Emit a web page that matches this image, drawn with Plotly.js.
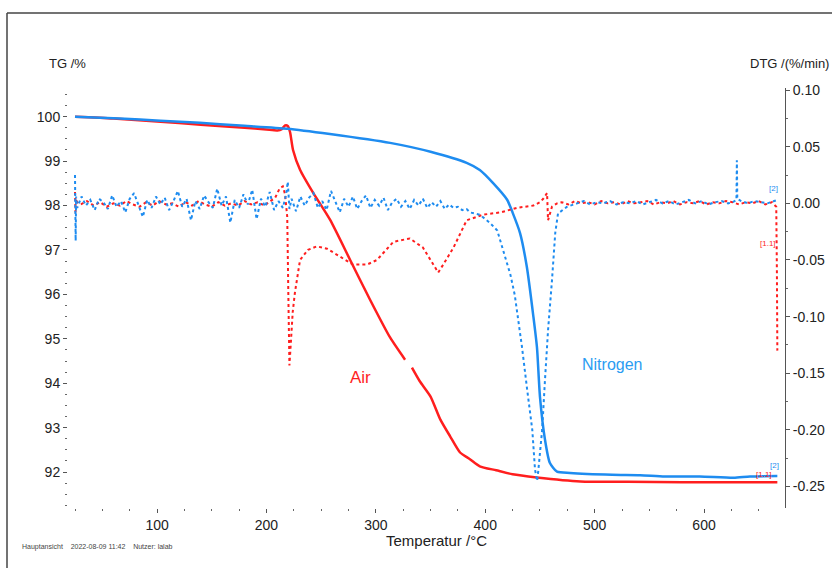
<!DOCTYPE html>
<html>
<head>
<meta charset="utf-8">
<script src="https://cdn.plot.ly/plotly-3.0.1.min.js"></script>
<style>html,body{margin:0;padding:0;background:#fff;}#chart{width:832px;height:568px;}</style>
</head>
<body>
<div id="chart"></div>
<script>
// ---- TG (mass %) : Air (red) ----
const tgAirT = [25, 60, 100, 140, 180, 200, 210, 214, 217, 219.5,
  221.6, 224.3, 230.8, 242.6, 258.1, 276.4, 294.7, 313, 326.7, 330,
  333, 340, 350, 359, 368, 377, 386, 395, 410, 425,
  447, 487, 530, 580, 630, 667];
const tgAir = [100.0, 99.96, 99.89, 99.82, 99.75, 99.71, 99.69, 99.72, 99.80, 99.79,
  99.65, 99.25, 98.80, 98.29, 97.68, 96.78, 95.88, 95.03, 94.53, null,
  94.35, 94.05, 93.70, 93.18, 92.80, 92.44, 92.29, 92.13, 92.04, 91.95,
  91.88, 91.79, 91.78, 91.77, 91.77, 91.77];

// ---- TG (mass %) : Nitrogen (blue) ----
const tgN2T = [25, 66, 103, 139, 176, 219, 258, 313, 350, 383,
  395, 407, 420, 425, 431.8, 438, 444, 447.3, 450, 454.6,
  459, 465.6, 477.5, 516, 541.6, 564, 596, 627, 642, 667];
const tgN2 = [100.0, 99.96, 99.91, 99.86, 99.80, 99.73, 99.61, 99.41, 99.21, 98.96,
  98.80, 98.51, 98.13, 97.84, 97.38, 96.62, 95.50, 94.80, 93.70, 92.73,
  92.21, 92.01, 91.98, 91.94, 91.93, 91.90, 91.90, 91.87, 91.90, 91.91];

// ---- DTG (%/min) : Air (red dotted) ----
const dtgAirT = [25, 25.5, 26, 27, 30, 36, 42, 48, 54, 60,
  66, 72, 78, 84, 90, 96, 102, 108, 114, 120,
  126, 132, 138, 144, 150, 156, 162, 168, 174, 180,
  186, 192, 198, 204, 208, 212, 215, 217, 219, 220,
  221, 222.5, 224, 226, 230.7, 238, 246, 255.4, 267, 279,
  292, 301, 316, 331, 343, 352, 357, 361, 371, 383,
  398, 414, 429, 444, 450, 453, 456.5, 457.4, 461, 465.6,
  470, 476, 482, 488, 494, 500, 506, 512, 518, 524,
  530, 536, 542, 548, 554, 560, 566, 572, 578, 584,
  590, 596, 602, 608, 614, 620, 626, 632, 638, 644,
  650, 656, 662, 666, 666.6, 667];
const dtgAir = [0.010, -0.008, 0.004, 0.001, -0.001, 0.002, -0.002, 0.001, -0.003, 0.000,
  -0.002, 0.002, -0.001, -0.003, 0.001, -0.002, 0.002, -0.001, 0.000, -0.003,
  0.001, -0.002, 0.002, -0.001, -0.003, 0.001, -0.002, 0.000, -0.002, 0.002,
  -0.001, 0.001, -0.002, 0.002, 0.005, 0.013, 0.015, 0.008, -0.012, -0.080,
  -0.143, -0.120, -0.096, -0.079, -0.050, -0.041, -0.038, -0.040, -0.047, -0.054,
  -0.054, -0.050, -0.034, -0.031, -0.039, -0.053, -0.061, -0.055, -0.039, -0.015,
  -0.010, -0.008, -0.004, -0.002, 0.001, 0.004, 0.009, -0.015, -0.003, 0.000,
  0.001, -0.001, 0.002, 0.000, 0.001, -0.001, 0.002, 0.000, 0.001, -0.001,
  0.002, 0.000, 0.001, 0.002, -0.001, 0.001, 0.000, 0.002, -0.001, 0.001,
  0.000, 0.002, -0.001, 0.001, 0.000, 0.002, 0.001, -0.001, 0.001, 0.000,
  0.002, -0.001, 0.001, -0.003, -0.060, -0.130];

// ---- DTG (%/min) : Nitrogen (blue dotted) ----
const dtgN2T = [25, 25.3, 25.6, 26, 27, 31, 35, 39, 43, 47,
  51, 55, 59, 63, 67, 71, 75, 79, 83, 87,
  91, 95, 99, 103, 107, 111, 115, 119, 123, 127,
  131, 135, 139, 143, 147, 151, 155, 159, 163, 167,
  171, 175, 179, 183, 187, 191, 195, 199, 203, 207,
  211, 215, 218, 219.5, 221, 223, 227, 231, 235, 239,
  243, 247, 251, 255, 259, 263, 267, 271, 275, 279,
  283, 287, 291, 295, 299, 303, 307, 311, 315, 319,
  323, 327, 331, 335, 339, 343, 347, 351, 355, 359,
  363, 367, 371, 375, 379, 383, 386, 395, 404, 411,
  416, 423, 427, 430, 433.6, 438, 443, 445.5, 447.4, 448.3,
  452, 454.6, 457.4, 461, 464, 466.5, 474.8, 484, 490, 496,
  502, 508, 514, 520, 526, 532, 538, 544, 550, 556,
  562, 568, 574, 580, 586, 592, 598, 604, 610, 616,
  622, 626, 629.6, 630, 630.4, 634, 640, 646, 652, 658,
  664, 667];
const dtgN2 = [0.025, -0.010, -0.033, 0.006, -0.004, 0.006, -0.002, 0.003, -0.006, 0.004,
  0.001, -0.005, 0.007, -0.003, 0.002, -0.008, 0.004, 0.009, -0.002, -0.012,
  0.003, -0.004, 0.006, -0.001, 0.005, -0.006, 0.002, 0.011, -0.003, 0.004,
  -0.015, 0.002, -0.005, 0.007, 0.001, -0.004, 0.013, -0.002, 0.006, -0.017,
  0.003, -0.004, 0.008, -0.001, 0.012, -0.014, 0.004, -0.003, 0.010, -0.006,
  0.002, -0.004, 0.008, 0.019, -0.005, 0.004, -0.007, 0.006, -0.002, 0.005,
  0.009, -0.004, 0.002, -0.006, 0.011, 0.001, -0.008, 0.004, -0.003, 0.006,
  -0.005, 0.002, 0.007, -0.004, 0.003, -0.002, 0.005, -0.006, 0.001, 0.004,
  -0.003, 0.002, -0.005, 0.003, -0.002, 0.004, -0.004, 0.001, -0.003, 0.002,
  -0.005, -0.001, -0.004, -0.003, -0.006, -0.005, -0.008, -0.010, -0.017, -0.024,
  -0.041, -0.063, -0.081, -0.100, -0.127, -0.162, -0.200, -0.235, -0.245, -0.238,
  -0.200, -0.156, -0.112, -0.068, -0.026, -0.009, -0.003, 0.000, 0.002, -0.001,
  0.001, 0.000, 0.002, -0.001, 0.001, 0.000, 0.002, -0.001, 0.001, 0.003,
  0.000, 0.002, -0.001, 0.001, 0.003, 0.000, 0.002, -0.001, 0.001, 0.002,
  0.000, 0.001, 0.003, 0.038, 0.004, 0.002, 0.000, 0.002, 0.001, 0.000,
  0.002, 0.003];

// ---- tick labels ----
const xTicks = [100, 200, 300, 400, 500, 600];
const tgTicks = [92, 93, 94, 95, 96, 97, 98, 99, 100];
const dtgTicks = [-0.25, -0.20, -0.15, -0.10, -0.05, 0.00, 0.05, 0.10];
const dtgTickText = ['-0.25', '-0.20', '-0.15', '-0.10', '-0.05', '0.00', '0.05', '0.10'];

const RED = '#ff1e1e';
const BLUE = '#1e8cf0';
const FONT = 'Liberation Sans, Arial, sans-serif';

const traces = [
  {x: tgAirT, y: tgAir, type: 'scatter', mode: 'lines', yaxis: 'y',
   line: {color: RED, width: 2.5, shape: 'spline', smoothing: 0.6}, connectgaps: false, hoverinfo: 'skip'},
  {x: dtgAirT, y: dtgAir, type: 'scatter', mode: 'lines', yaxis: 'y2',
   line: {color: RED, width: 2, dash: 'dot'}, hoverinfo: 'skip'},
  {x: dtgN2T, y: dtgN2, type: 'scatter', mode: 'lines', yaxis: 'y2',
   line: {color: BLUE, width: 2, dash: 'dot'}, hoverinfo: 'skip'},
  {x: tgN2T, y: tgN2, type: 'scatter', mode: 'lines', yaxis: 'y',
   line: {color: BLUE, width: 2.5, shape: 'spline', smoothing: 0.6}, hoverinfo: 'skip'}
];

const L = 68, R = 785, T = 88, B = 508;
const px = v => (v - L) / (R - L);
const py = v => (B - v) / (B - T);

const layout = {
  width: 832, height: 568,
  margin: {l: L, r: 832 - R, t: T, b: 568 - B, pad: 0},
  paper_bgcolor: '#fff', plot_bgcolor: '#fff',
  showlegend: false,
  font: {family: FONT, size: 14, color: '#222'},
  xaxis: {
    range: [18.6, 674], tickvals: xTicks, ticks: 'outside', ticklen: 4, tickcolor: '#555',
    showgrid: false, zeroline: false, showline: false,
    tickfont: {size: 14, color: '#222'},
    minor: {dtick: 25, ticks: 'outside', ticklen: 2, tickcolor: '#666', showgrid: false}
  },
  yaxis: {
    range: [91.191, 100.645], tickvals: tgTicks, ticks: 'outside', ticklen: 4, tickcolor: '#555',
    showgrid: false, zeroline: false, showline: false,
    tickfont: {size: 14, color: '#222'},
    minor: {dtick: 0.25, ticks: 'outside', ticklen: 2, tickcolor: '#666', showgrid: false}
  },
  yaxis2: {
    overlaying: 'y', side: 'right', range: [-0.2689, 0.1018],
    tickvals: dtgTicks, ticktext: dtgTickText, ticks: 'outside', ticklen: 4, tickcolor: '#555',
    showline: true, linecolor: '#555', linewidth: 1,
    showgrid: false, zeroline: false,
    tickfont: {size: 14, color: '#222'},
    minor: {dtick: 0.025, ticks: 'outside', ticklen: 2, tickcolor: '#666', showgrid: false}
  },
  shapes: [
    {type: 'line', xref: 'paper', yref: 'paper', x0: px(7), x1: px(7), y0: py(13), y1: py(575),
     line: {color: '#444', width: 1.5}},
    {type: 'line', xref: 'paper', yref: 'paper', x0: px(7), x1: px(840), y0: py(13), y1: py(13),
     line: {color: '#444', width: 1.5}}
  ],
  annotations: [
    {text: 'TG /%', xref: 'paper', yref: 'paper', x: px(47), y: py(63), xanchor: 'left', yanchor: 'middle',
     showarrow: false, font: {family: FONT, size: 13, color: '#222'}},
    {text: 'DTG /(%/min)', xref: 'paper', yref: 'paper', x: px(831), y: py(63), xanchor: 'right', yanchor: 'middle',
     showarrow: false, font: {family: FONT, size: 13, color: '#222'}},
    {text: 'Temperatur /°C', xref: 'paper', yref: 'paper', x: px(436), y: py(540), xanchor: 'center', yanchor: 'middle',
     showarrow: false, font: {family: FONT, size: 15, color: '#222'}},
    {text: 'Hauptansicht&nbsp;&nbsp;&nbsp;&nbsp;2022-08-09 11:42&nbsp;&nbsp;&nbsp;&nbsp;Nutzer: lalab', xref: 'paper', yref: 'paper',
     x: px(20), y: py(547), xanchor: 'left', yanchor: 'middle',
     showarrow: false, font: {family: FONT, size: 7, color: '#444'}},
    {text: 'Air', xref: 'x', yref: 'y', x: 285.6, y: 94.13, xanchor: 'center', yanchor: 'middle',
     showarrow: false, font: {family: FONT, size: 17, color: RED}},
    {text: 'Nitrogen', xref: 'x', yref: 'y', x: 516, y: 94.42, xanchor: 'center', yanchor: 'middle',
     showarrow: false, font: {family: FONT, size: 16, color: '#2a9cf2'}},
    {text: '[2]', xref: 'paper', yref: 'paper', x: px(773), y: py(188), xanchor: 'center', yanchor: 'middle',
     showarrow: false, font: {family: FONT, size: 8, color: BLUE}},
    {text: '[1.1]', xref: 'paper', yref: 'paper', x: px(768), y: py(243), xanchor: 'center', yanchor: 'middle',
     showarrow: false, font: {family: FONT, size: 8, color: RED}},
    {text: '[2]', xref: 'paper', yref: 'paper', x: px(774), y: py(465), xanchor: 'center', yanchor: 'middle',
     showarrow: false, font: {family: FONT, size: 8, color: BLUE}},
    {text: '[1.1]', xref: 'paper', yref: 'paper', x: px(764), y: py(474), xanchor: 'center', yanchor: 'middle',
     showarrow: false, font: {family: FONT, size: 8, color: RED}}
  ]
};

Plotly.newPlot('chart', traces, layout, {staticPlot: true, displayModeBar: false});
</script>
</body>
</html>
